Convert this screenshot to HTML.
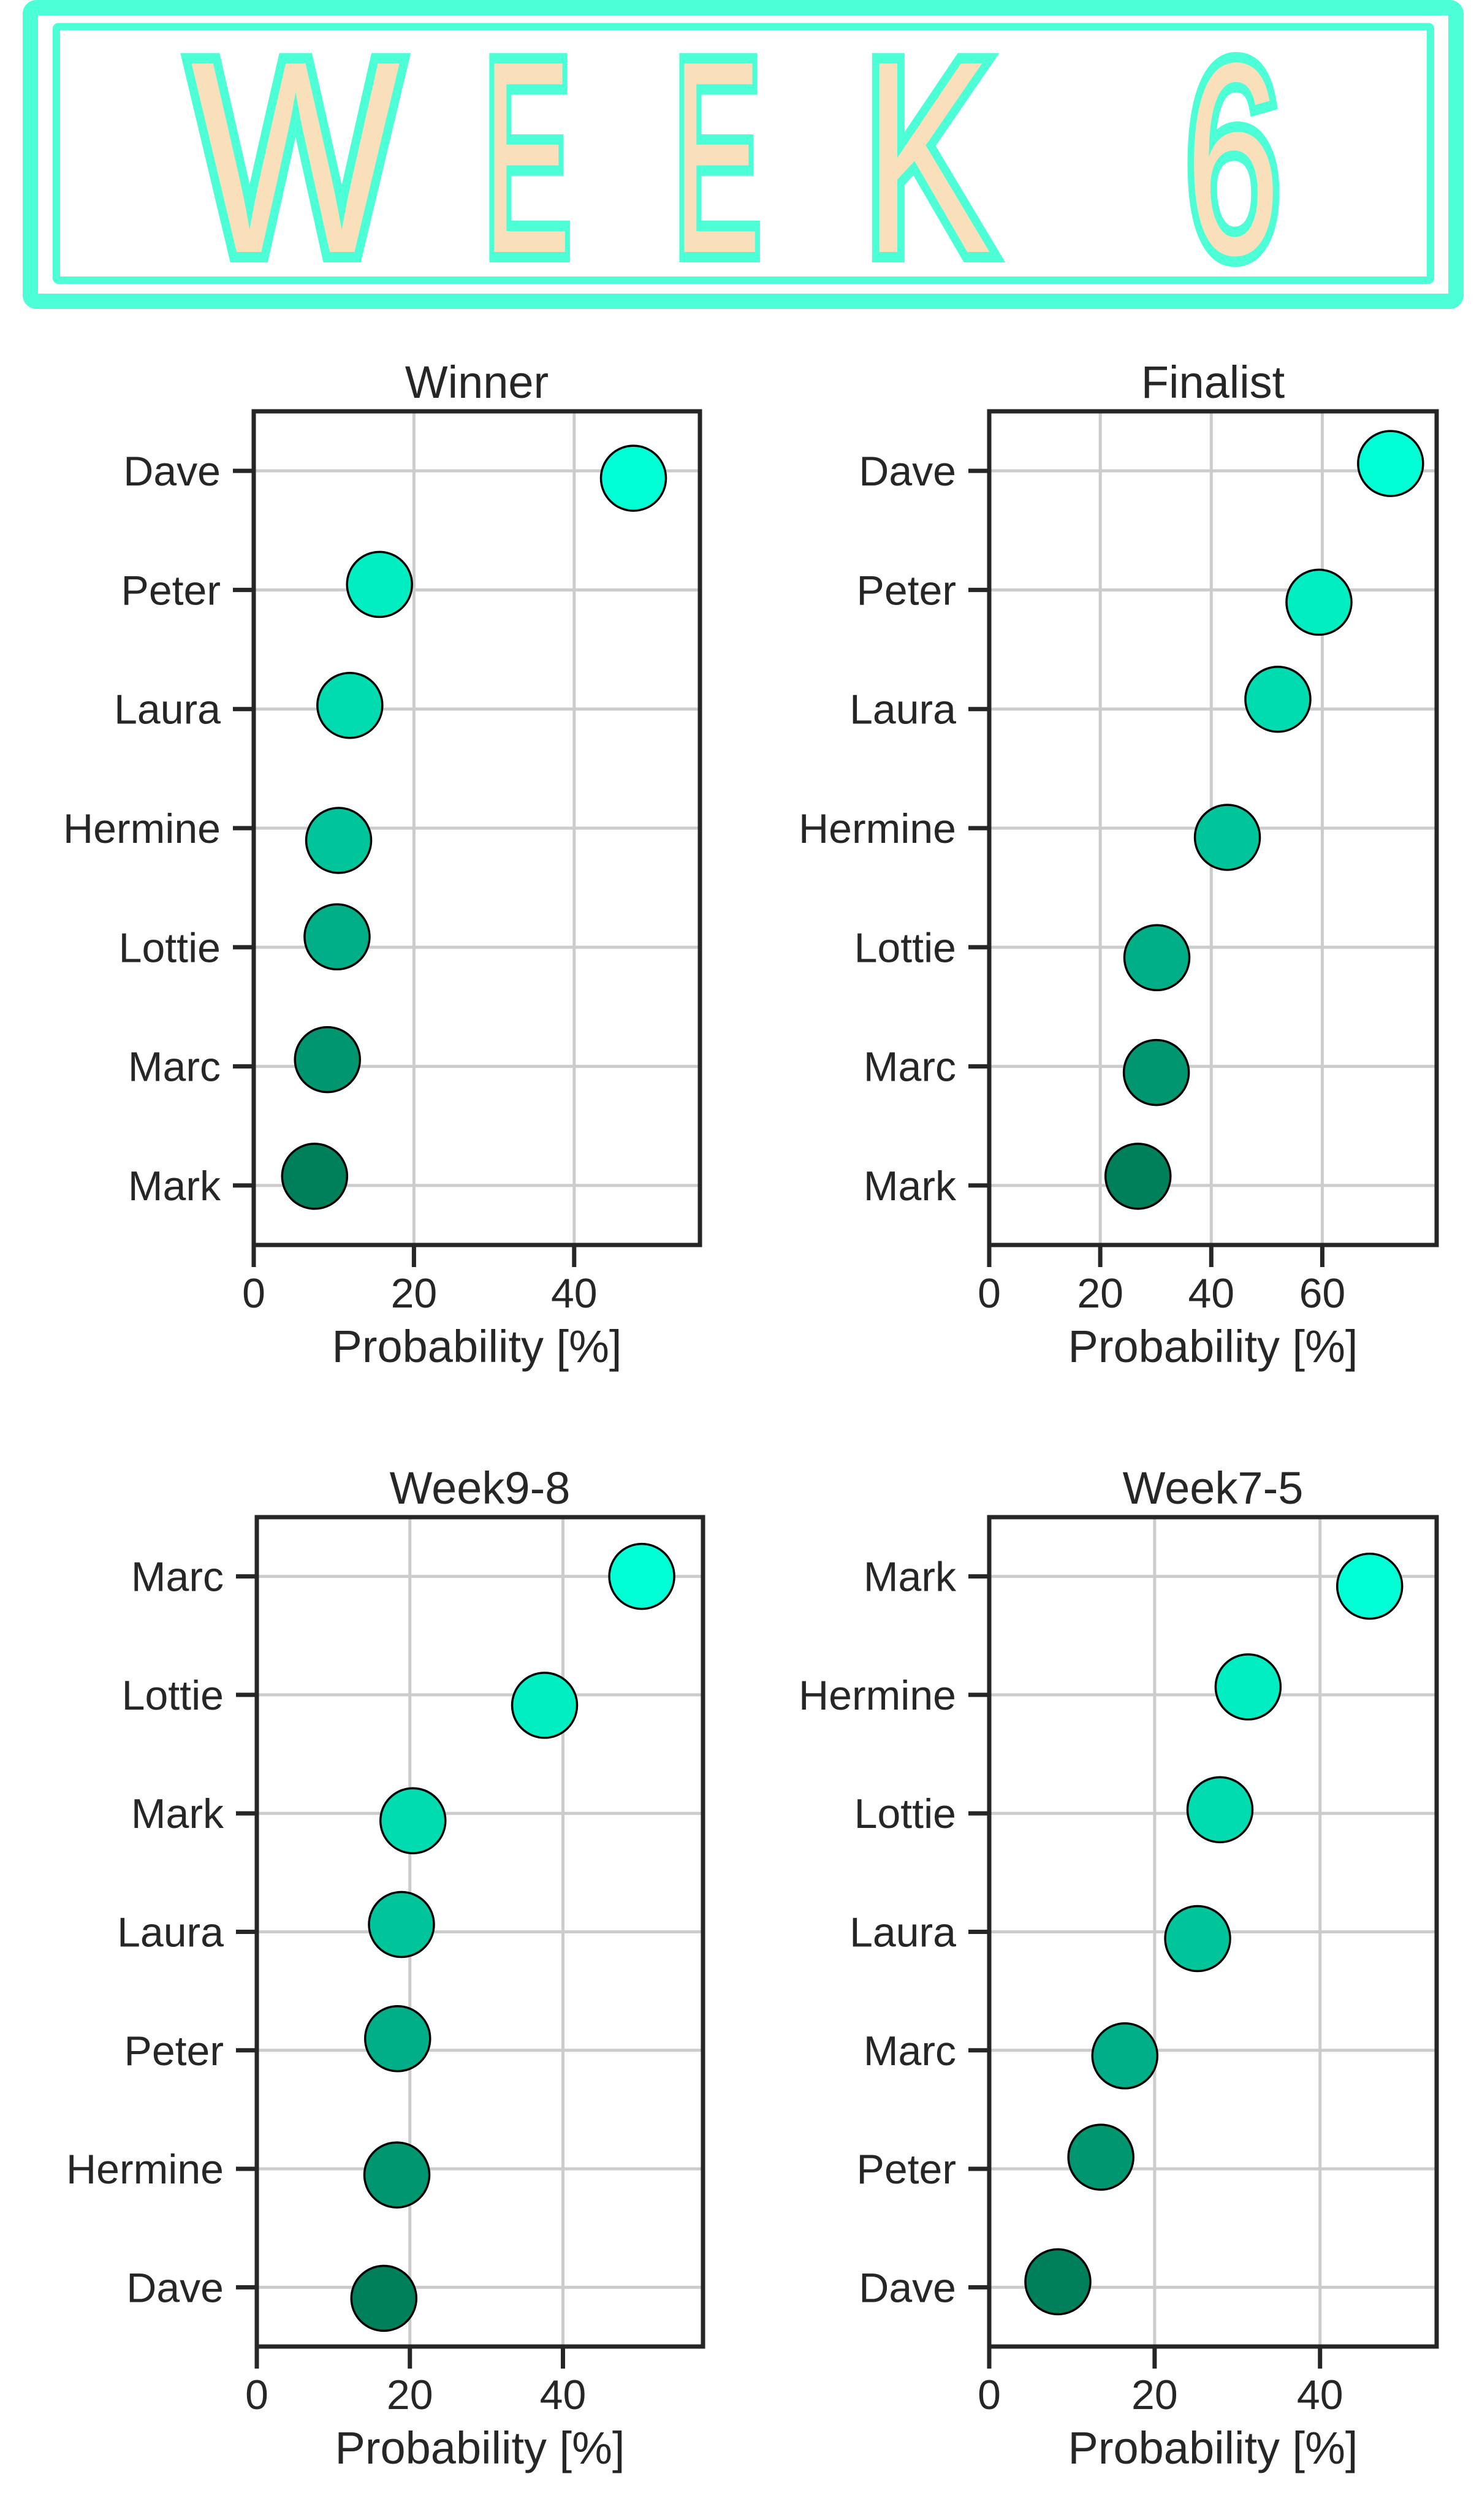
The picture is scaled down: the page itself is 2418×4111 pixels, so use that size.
<!DOCTYPE html>
<html><head><meta charset="utf-8"><style>
html,body{margin:0;padding:0;background:#fff;}
svg{display:block;}
</style></head><body>
<svg id="fig" width="2418" height="4111" viewBox="0 0 2418 4111" xmlns="http://www.w3.org/2000/svg" font-family="Liberation Sans, sans-serif">
<g>
<rect x="49.5" y="12.5" width="2326" height="479" rx="10" fill="none" stroke="#4CFFD6" stroke-width="25"/>
<rect x="92" y="43.5" width="2242" height="413.5" rx="3" fill="none" stroke="#4CFFD6" stroke-width="12"/>
<g font-size="447" fill="#F9E0BB" stroke="#4CFFD6" stroke-width="34" paint-order="stroke" stroke-linejoin="miter">
<text x="311" y="411" textLength="342" lengthAdjust="spacingAndGlyphs">W</text>
<text x="789" y="411" textLength="142" lengthAdjust="spacingAndGlyphs">E</text>
<text x="1099" y="411" textLength="142" lengthAdjust="spacingAndGlyphs">E</text>
<text x="1409" y="411" textLength="209" lengthAdjust="spacingAndGlyphs">K</text>
<text x="1934" y="414" textLength="155" lengthAdjust="spacingAndGlyphs">6</text>
</g>
</g>
<g id="charts"></g>
</svg>
<script>
// Winner
const winnerNames = ["Dave","Peter","Laura","Hermine","Lottie","Marc","Mark"];
const winnerValues = [47.4,15.7,12.0,10.6,10.4,9.2,7.6];
const winnerTicks = [0,20,40];
// Finalist
const finalistNames = ["Dave","Peter","Laura","Hermine","Lottie","Marc","Mark"];
const finalistValues = [72.3,59.4,52.0,42.9,30.2,30.1,26.8];
const finalistTicks = [0,20,40,60];
// Week9-8
const week98Names = ["Marc","Lottie","Mark","Laura","Peter","Hermine","Dave"];
const week98Values = [50.3,37.6,20.4,18.9,18.4,18.3,16.6];
const week98Ticks = [0,20,40];
// Week7-5
const week75Names = ["Mark","Hermine","Lottie","Laura","Marc","Peter","Dave"];
const week75Values = [46.0,31.3,27.9,25.2,16.4,13.5,8.3];
const week75Ticks = [0,20,40];

const COLORS = ["#00FFD5","#00EEC2","#00DCB0","#00C49A","#00AF88","#00966F","#00805A"];
const NS = "http://www.w3.org/2000/svg";
const root = document.getElementById("charts");

function mk(tag, attrs, parent){
  const e = document.createElementNS(NS, tag);
  for (const k in attrs) e.setAttribute(k, attrs[k]);
  parent.appendChild(e);
  return e;
}

function drawChart(cfg, names, values, ticks){
  const g = mk("g", {}, root);
  
  
  const L = cfg.left, R = cfg.right, T = cfg.top, B = cfg.bottom;
  const xScale = v => L + (v - 0) / cfg.xmax * (R - L);
  const n = names.length;
  const step = (B - T) / n;
  const yScale = i => T + step * (i + 0.5);
  ticks.forEach(t => {
    const gl = mk("line", {x1:xScale(t), x2:xScale(t), y1:T, y2:B, stroke:"#cccccc", "stroke-width":5}, g);
    
    
  });
  names.forEach((nm, i) => {
    const y = yScale(i);
    const gl = mk("line", {x1:L, x2:R, y1:y, y2:y, stroke:"#cccccc", "stroke-width":5}, g);
    
    
    const tk = mk("line", {x1:L-34, x2:L, y1:y, y2:y, stroke:"#262626", "stroke-width":7}, g);
    
    
    const lb = mk("text", {x:L-54, y:y+24, "text-anchor":"end", "font-size":68, fill:"#262626"}, g);
    lb.textContent = nm;
    
    
  });
  ticks.forEach(t => {
    const tk = mk("line", {x1:xScale(t), x2:xScale(t), y1:B, y2:B+36, stroke:"#262626", "stroke-width":7}, g);
    
    
    const lb = mk("text", {x:xScale(t), y:B+102, "text-anchor":"middle", "font-size":68, fill:"#262626"}, g);
    lb.textContent = String(t);
    
    
  });
  values.forEach((v, i) => {
    const c = mk("circle", {cx:xScale(v), cy:yScale(i) + cfg.jitter[i], r:53, fill:COLORS[i], stroke:"#000", "stroke-width":3.5}, g);
    
    
  });
  const sp = mk("rect", {x:L, y:T, width:R-L, height:B-T, fill:"none", stroke:"#262626", "stroke-width":7}, g);
  
  
  const tt = mk("text", {x:(L+R)/2, y:T-22, "text-anchor":"middle", "font-size":74, fill:"#262626"}, g);
  tt.textContent = cfg.title;
  
  
  const xl = mk("text", {x:(L+R)/2, y:B+191, "text-anchor":"middle", "font-size":74, fill:"#262626"}, g);
  xl.textContent = "Probability [%]";
  
  
}

drawChart({name:"winner-chart", title:"Winner", left:414, right:1142, top:671, bottom:2031, xmax:55.7,
  jitter:[12,-9,-6,20,-17,-11,-15]}, winnerNames, winnerValues, winnerTicks);
drawChart({name:"finalist-chart", title:"Finalist", left:1614, right:2344, top:671, bottom:2031, xmax:80.6,
  jitter:[-12,20,-16,15,17,10,-15]}, finalistNames, finalistValues, finalistTicks);
drawChart({name:"week9-8-chart", title:"Week9-8", left:419, right:1147, top:2475, bottom:3828, xmax:58.3,
  jitter:[0,17,12,-12,-19,10,18]}, week98Names, week98Values, week98Ticks);
drawChart({name:"week7-5-chart", title:"Week7-5", left:1614, right:2344, top:2475, bottom:3828, xmax:54.1,
  jitter:[16,-13,-6,11,9,-19,-9]}, week75Names, week75Values, week75Ticks);
</script>
</body></html>
